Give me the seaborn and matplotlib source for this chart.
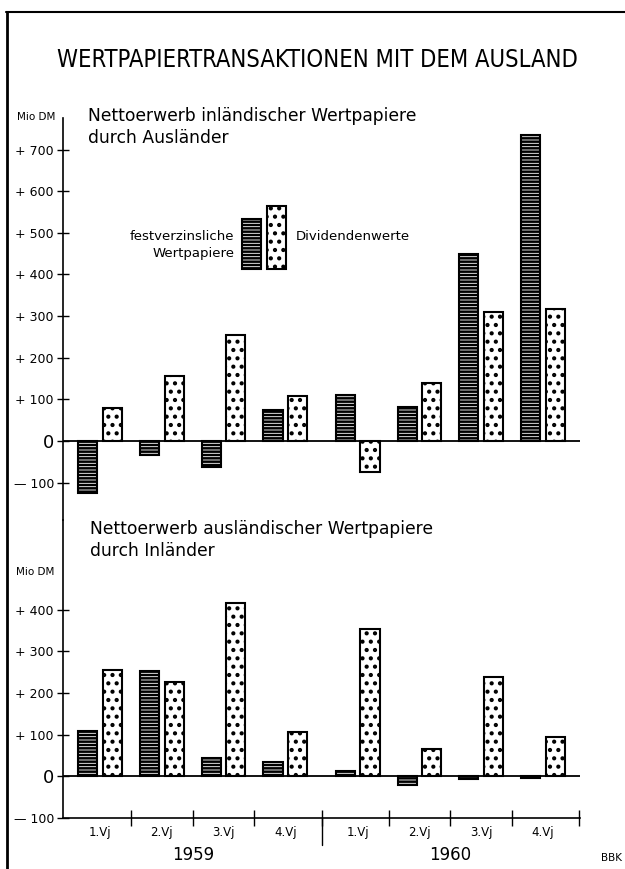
import numpy as np
import pandas as pd
import seaborn as sns
from matplotlib import pyplot as plt
from matplotlib.patches import Rectangle
from matplotlib.lines import Line2D
import matplotlib.transforms as mtransforms

# quarters 1959 / 1960
years = [1959, 1959, 1959, 1959, 1960, 1960, 1960, 1960]
quarters = ['1.Vj', '2.Vj', '3.Vj', '4.Vj', '1.Vj', '2.Vj', '3.Vj', '4.Vj']
series = ['festverzinsliche Wertpapiere', 'Dividendenwerte']

# Nettoerwerb inländischer Wertpapiere durch Ausländer (Mio DM)
top_fest = [-125, -35, -62, 75, 110, 82, 450, 735]
top_div = [80, 155, 255, 108, -75, 140, 310, 317]

# Nettoerwerb ausländischer Wertpapiere durch Inländer (Mio DM)
bot_fest = [108, 252, 43, 34, 12, -20, -6, -3]
bot_div = [255, 226, 416, 106, 353, 65, 238, 94]

top_ticks = [-100, 0, 100, 200, 300, 400, 500, 600, 700]
bot_ticks = [-100, 0, 100, 200, 300, 400]

sns.set_theme(style='white')
plt.rcParams['font.family'] = ['DejaVu Sans']
plt.rcParams['text.color'] = 'black'
plt.rcParams['hatch.linewidth'] = 1.8
plt.rcParams['hatch.color'] = 'black'

W, H = 625, 869
fig = plt.figure(figsize=(W / 100, H / 100), dpi=100)
fx = lambda px: px / W
fy = lambda py: 1 - py / H

HATCH_FEST = '-----'
HATCH_DIV = '..'

# bar positions: a small extra gap between the two years
pos = np.arange(8) + np.where(np.array(years) == 1960, 0.17, 0.0)
xlim = (-0.6, pos[-1] + 0.6)

def make_df(fest, div):
    return pd.DataFrame({
        'x': np.concatenate([pos, pos]),
        'wert': fest + div,
        'art': [series[0]] * 8 + [series[1]] * 8,
    })

def tick_text(v):
    if v == 0:
        return '0'
    return ('+ ' if v > 0 else '\u2014 ') + str(abs(v))

def draw(ax, df, ticks):
    sns.barplot(data=df, x='x', y='wert', hue='art', hue_order=series,
                native_scale=True, width=0.8, gap=0.23, errorbar=None,
                legend=False, ax=ax)
    for cont, hatch in zip(ax.containers, [HATCH_FEST, HATCH_DIV]):
        for patch in cont:
            patch.set_facecolor('white')
            patch.set_edgecolor('black')
            patch.set_hatch(hatch)
            patch.set_linewidth(1.5)
    ax.axhline(0, color='black', lw=1.3, zorder=5)
    ax.set_xlim(*xlim)
    ax.set_yticks(ticks)
    ax.set_yticklabels([tick_text(v) for v in ticks])
    for lab, v in zip(ax.get_yticklabels(), ticks):
        lab.set_fontsize(13 if v == 0 else 9)
    ax.tick_params(axis='y', direction='inout', length=9, width=1,
                   color='black', left=True, pad=2, labelcolor='black')
    ax.set_xlabel('')
    ax.set_ylabel('')
    for s in ['top', 'right', 'bottom']:
        ax.spines[s].set_visible(False)
    ax.spines['left'].set_color('black')
    ax.spines['left'].set_linewidth(1.2)
    ax.patch.set_alpha(0)

# top panel
ax1 = fig.add_axes([fx(63), fy(520), fx(580) - fx(63), fy(118) - fy(520)])
draw(ax1, make_df(top_fest, top_div), top_ticks)
ax1.set_ylim(-190, 776)
ax1.set_xticks([])

# bottom panel
ax2 = fig.add_axes([fx(63), fy(818), fx(580) - fx(63), fy(520) - fy(818)])
draw(ax2, make_df(bot_fest, bot_div), bot_ticks)
ax2.set_ylim(-100, 615)
ax2.spines['bottom'].set_visible(True)
ax2.spines['bottom'].set_color('black')
ax2.spines['bottom'].set_linewidth(1.2)

seps = list((pos[:-1] + pos[1:]) / 2) + [xlim[1] - 0.01]
ax2.set_xticks(seps)
ax2.set_xticklabels([])
ax2.set_xticks(pos, minor=True)
ax2.set_xticklabels(quarters, minor=True, fontsize=8.5)
ax2.tick_params(axis='x', which='major', direction='inout', length=11,
                width=1, color='black', bottom=True)
ax2.tick_params(axis='x', which='minor', length=0, pad=6, labelcolor='black',
                bottom=True)

trans = mtransforms.blended_transform_factory(ax2.transData, ax2.transAxes)
ax2.plot([seps[3], seps[3]], [0, -0.09], color='black', lw=1,
         transform=trans, clip_on=False)
for yr in [1959, 1960]:
    xs = pos[np.array(years) == yr]
    ax2.text(xs.mean(), -0.125, str(yr), transform=trans, ha='center',
             va='center', fontsize=12)

# legend (drawn like the original key)
for x0, h, hatch in [(0.346, 0.124, HATCH_FEST), (0.395, 0.157, HATCH_DIV)]:
    ax1.add_patch(Rectangle((x0, 0.624), 0.0368, h, transform=ax1.transAxes,
                            facecolor='white', edgecolor='black', hatch=hatch,
                            lw=1.5, clip_on=False))
ax1.text(0.331, 0.683, 'festverzinsliche\nWertpapiere', transform=ax1.transAxes,
         ha='right', va='center', multialignment='right', fontsize=9.5,
         linespacing=1.4)
ax1.text(0.451, 0.706, 'Dividendenwerte', transform=ax1.transAxes,
         ha='left', va='center', fontsize=9.5)

# texts
fig.text(fx(317), fy(60), 'WERTPAPIERTRANSAKTIONEN MIT DEM AUSLAND',
         ha='center', va='center', fontsize=17, fontstretch='condensed')
fig.text(fx(88), fy(127), 'Nettoerwerb inländischer Wertpapiere\ndurch Ausländer',
         ha='left', va='center', fontsize=12.3, linespacing=1.25)
fig.text(fx(90), fy(540), 'Nettoerwerb ausländischer Wertpapiere\ndurch Inländer',
         ha='left', va='center', fontsize=12.3, linespacing=1.25)
fig.text(fx(36), fy(117), 'Mio DM', ha='center', va='center', fontsize=7.5)
fig.text(fx(35), fy(572), 'Mio DM', ha='center', va='center', fontsize=7.5)
fig.text(fx(612), fy(858), 'BBK', ha='center', va='center', fontsize=7.5)

# page frame
fig.add_artist(Line2D([fx(6), 1], [fy(12), fy(12)], color='black', lw=1.5))
fig.add_artist(Line2D([fx(7), fx(7)], [fy(12), 0], color='black', lw=2))

fig.savefig('out.png', dpi=100, facecolor='white')
